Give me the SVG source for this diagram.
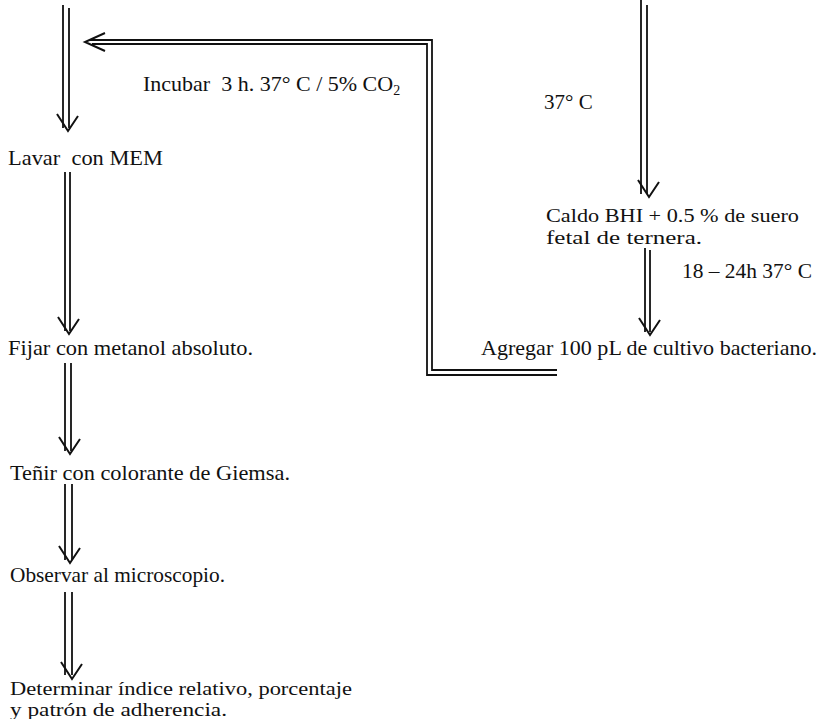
<svg xmlns="http://www.w3.org/2000/svg" xmlns:xlink="http://www.w3.org/1999/xlink" width="825" height="719" viewBox="0 0 825 719">
<style>
.t{font-family:"Liberation Serif","Times New Roman",serif;font-size:21px;fill:#111;}
.s{font-size:19px;}
.ln{stroke:#111;stroke-width:1.8;fill:none;}
.hd{stroke:#111;stroke-width:2;fill:none;stroke-linejoin:miter;}
</style>
<defs>
<path id="vhead" class="hd" d="M-11,-17 L0,0 L10,-15"/>
</defs>
<rect width="825" height="719" fill="#fff"/>
<g id="connectors">
  <path class="ln" d="M63,5 V128 M69,8 V128"/>
  <use xlink:href="#vhead" x="68" y="131"/>
  <path class="ln" d="M65,172 V331 M70,172 V331"/>
  <use xlink:href="#vhead" x="69" y="334"/>
  <path class="ln" d="M65,363 V451 M71,363 V451"/>
  <use xlink:href="#vhead" x="70" y="454"/>
  <path class="ln" d="M65,484 V560 M72,484 V560"/>
  <use xlink:href="#vhead" x="70" y="563"/>
  <path class="ln" d="M65,592 V675 M72,592 V675"/>
  <use xlink:href="#vhead" x="72" y="679"/>
  <path class="ln" d="M641,0 V194 M647,5 V194"/>
  <use xlink:href="#vhead" x="649" y="197"/>
  <path class="ln" d="M645,248 V332 M650,250 V332"/>
  <use xlink:href="#vhead" x="650" y="335"/>
  <path class="ln" d="M557,370 H432 V40 H90"/>
  <path class="ln" d="M557,375 H427 V44 H92"/>
  <path class="hd" d="M105,33 L85,42 L105,51"/>
</g>
<g id="n-lavar"><text class="t" x="8" y="165" textLength="155" lengthAdjust="spacingAndGlyphs" xml:space="preserve">Lavar  con MEM</text></g>
<g id="l-incubar"><text class="t" x="143" y="91" style="font-size:22px" xml:space="preserve">Incubar  3 h. 37° C / 5% CO<tspan style="font-size:14px" dy="4">2</tspan></text></g>
<g id="l-37"><text class="t" x="544" y="109">37° C</text></g>
<g id="n-caldo"><text class="t s" x="546" y="222" textLength="253" lengthAdjust="spacingAndGlyphs">Caldo BHI + 0.5 % de suero</text><text class="t s" x="546" y="244" textLength="156" lengthAdjust="spacingAndGlyphs">fetal de ternera.</text></g>
<g id="l-18"><text class="t" x="682" y="278" textLength="130" lengthAdjust="spacingAndGlyphs">18 – 24h 37° C</text></g>
<g id="n-agregar"><text class="t" x="481" y="355" textLength="336" lengthAdjust="spacingAndGlyphs">Agregar 100 pL de cultivo bacteriano.</text></g>
<g id="n-fijar"><text class="t" x="8" y="355" textLength="245" lengthAdjust="spacingAndGlyphs">Fijar con metanol absoluto.</text></g>
<g id="n-tenir"><text class="t" x="10" y="480" textLength="280" lengthAdjust="spacingAndGlyphs">Teñir con colorante de Giemsa.</text></g>
<g id="n-observar"><text class="t" x="10" y="582" textLength="215" lengthAdjust="spacingAndGlyphs">Observar al microscopio.</text></g>
<g id="n-determinar"><text class="t s" x="10" y="695" textLength="342" lengthAdjust="spacingAndGlyphs">Determinar índice relativo, porcentaje</text><text class="t s" x="10" y="716" textLength="217" lengthAdjust="spacingAndGlyphs">y patrón de adherencia.</text></g>
</svg>
